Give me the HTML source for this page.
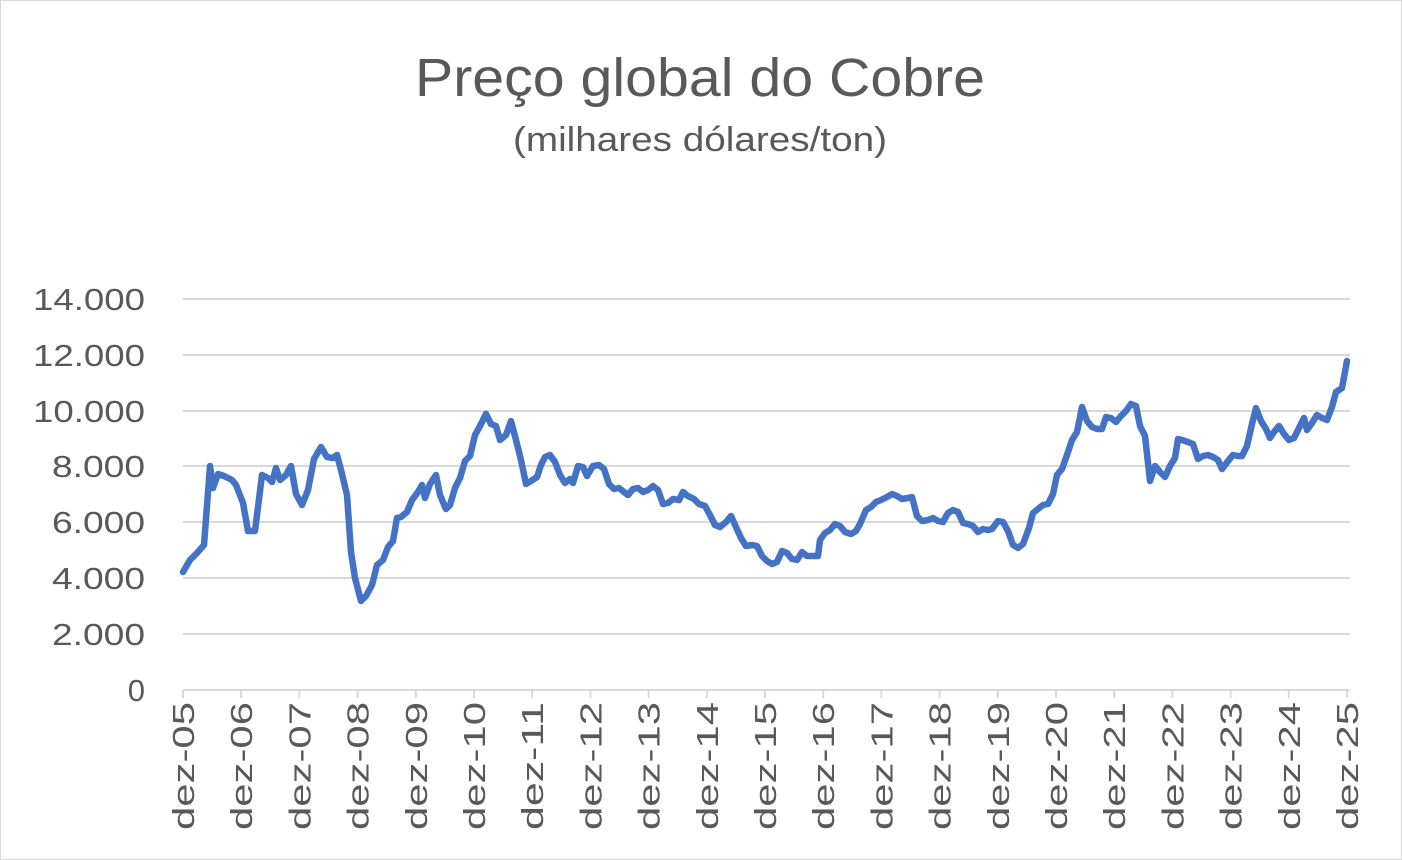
<!DOCTYPE html>
<html><head><meta charset="utf-8"><style>
html,body{margin:0;padding:0;background:#fff;}
svg{display:block;}
text{font-family:"Liberation Sans",sans-serif;fill:#595959;}
</style></head><body>
<svg width="1402" height="860" viewBox="0 0 1402 860" xmlns="http://www.w3.org/2000/svg">
<rect x="0.5" y="0.5" width="1401" height="859" fill="#fff" stroke="#d9d9d9"/>
<text x="415" y="96" font-size="54" textLength="570" lengthAdjust="spacingAndGlyphs">Preço global do Cobre</text>
<text x="513" y="151" font-size="34" textLength="374" lengthAdjust="spacingAndGlyphs">(milhares dólares/ton)</text>
<g stroke="#d9d9d9" stroke-width="2">
<line x1="183" x2="1350" y1="299" y2="299"/>
<line x1="183" x2="1350" y1="355" y2="355"/>
<line x1="183" x2="1350" y1="411" y2="411"/>
<line x1="183" x2="1350" y1="466" y2="466"/>
<line x1="183" x2="1350" y1="522" y2="522"/>
<line x1="183" x2="1350" y1="578" y2="578"/>
<line x1="183" x2="1350" y1="634" y2="634"/>
<line x1="183" x2="1350" y1="690" y2="690"/>
</g>
<g font-size="31">
<text x="33" y="310" textLength="112" lengthAdjust="spacingAndGlyphs">14.000</text>
<text x="33" y="366" textLength="112" lengthAdjust="spacingAndGlyphs">12.000</text>
<text x="33" y="422" textLength="112" lengthAdjust="spacingAndGlyphs">10.000</text>
<text x="52" y="477" textLength="93" lengthAdjust="spacingAndGlyphs">8.000</text>
<text x="52" y="533" textLength="93" lengthAdjust="spacingAndGlyphs">6.000</text>
<text x="52" y="589" textLength="93" lengthAdjust="spacingAndGlyphs">4.000</text>
<text x="52" y="645" textLength="93" lengthAdjust="spacingAndGlyphs">2.000</text>
<text x="145" y="701" text-anchor="end">0</text>
</g>
<g id="ticks" stroke="#d9d9d9" stroke-width="2"></g>
<g id="labels" font-size="31"></g>
<polyline fill="none" stroke="#4472C4" stroke-width="6.5" stroke-linejoin="round" stroke-linecap="round" points="183,572 190,560 197,553 204,545 210,466 213,488 218,474 224,476 232,480 236,485 243,503 248,531 255,531 262,475 268,478 272,482 276,468 280,480 286,475 291,466 296,494 302,505 308,490 314,459 321,447 327,457 333,458 337,455 341,470 347,495 351,552 355,578 361,601 366,596 372,585 377,565 383,560 388,547 393,541 397,518 401,517 407,512 412,500 418,492 422,485 425,498 430,484 436,475 440,495 446,509 450,505 455,488 460,478 465,461 470,456 475,435 480,426 486,414 491,424 496,426 500,440 506,435 511,421 516,440 521,460 526,484 531,481 537,477 541,465 545,457 550,455 555,462 560,475 565,483 570,479 573,483 578,466 583,467 587,476 593,466 599,465 604,469 609,484 614,489 619,488 624,492 628,495 633,489 638,488 643,492 648,490 653,486 658,490 663,504 668,503 673,499 679,500 683,492 688,496 694,499 699,504 705,506 710,515 715,525 720,527 726,522 731,516 736,527 741,538 746,546 752,545 757,546 762,556 767,561 772,564 777,562 782,551 787,553 792,559 797,560 802,552 807,556 813,556 818,556 820,540 825,533 830,530 835,524 840,526 845,532 851,534 856,531 860,524 866,510 871,507 876,502 881,500 887,497 892,494 897,496 902,499 908,498 912,497 917,516 922,521 928,520 933,518 938,521 943,522 948,513 953,510 958,512 963,523 968,524 973,526 978,532 983,529 988,530 992,529 998,521 1003,522 1008,531 1013,545 1018,548 1023,544 1029,528 1033,513 1038,509 1043,505 1048,504 1053,494 1057,475 1062,469 1067,455 1072,440 1077,432 1082,407 1087,421 1092,427 1097,429 1102,429 1106,417 1111,418 1116,422 1121,416 1126,411 1131,404 1136,406 1140,426 1145,436 1150,481 1155,466 1160,472 1165,477 1170,466 1175,458 1178,439 1182,440 1188,442 1193,444 1198,459 1203,456 1208,455 1213,457 1218,460 1222,469 1228,461 1233,455 1238,456 1242,456 1247,446 1252,424 1256,408 1261,421 1266,429 1270,438 1274,432 1279,426 1284,434 1289,440 1294,438 1299,428 1304,418 1307,430 1312,423 1317,415 1322,418 1327,420 1332,407 1336,392 1342,388 1347,361"/>
</svg>
<script>
var ns="http://www.w3.org/2000/svg",t=document.getElementById("ticks"),l=document.getElementById("labels");
for(var i=0;i<=20;i++){var x=183+i*58.2;
var ln=document.createElementNS(ns,"line");ln.setAttribute("x1",x);ln.setAttribute("x2",x);ln.setAttribute("y1",690);ln.setAttribute("y2",698);t.appendChild(ln);
var tx=document.createElementNS(ns,"text");var yy=(5+i)%100;tx.textContent="dez-"+(yy<10?"0"+yy:yy);
tx.setAttribute("textLength","128");tx.setAttribute("lengthAdjust","spacingAndGlyphs");
tx.setAttribute("transform","translate("+(x+11)+",830) rotate(-90)");l.appendChild(tx);}
</script>
</body></html>
